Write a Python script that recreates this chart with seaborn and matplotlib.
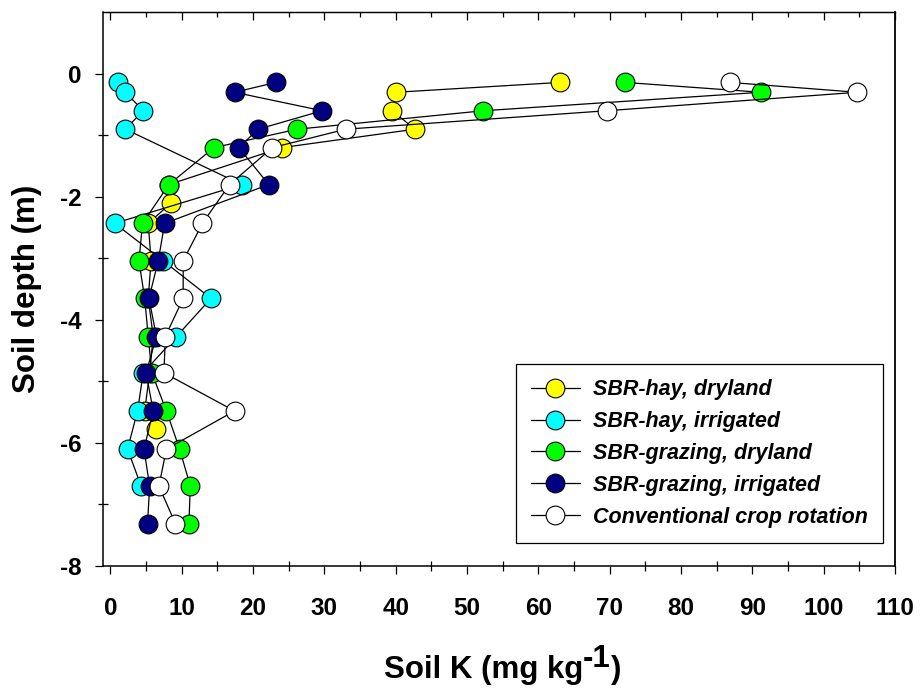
import matplotlib
matplotlib.use("Agg")
import matplotlib.pyplot as plt
import seaborn as sns
import pandas as pd
from matplotlib.ticker import MultipleLocator, FixedLocator

# ---------------- data ----------------
series_names = ["SBR-hay, dryland", "SBR-hay, irrigated", "SBR-grazing, dryland",
                "SBR-grazing, irrigated", "Conventional crop rotation"]
series_colors = ["#FFFF00", "#00FFFF", "#00FF00", "#000080", "#FFFFFF"]

hay_dry_depth = [-0.14, -0.3, -0.6, -0.9, -1.2, -1.8, -2.1, -2.43, -3.04, -3.65, -4.27, -4.86, -5.48, -5.78]
hay_dry_k = [63.0, 40.0, 39.5, 42.7, 24.0, 8.2, 8.5, 5.3, 5.7, 5.3, 6.0, 5.5, 4.8, 6.45]

hay_irr_depth = [-0.14, -0.3, -0.6, -0.9, -1.8, -2.43, -3.04, -3.65, -4.27, -4.86, -5.48, -6.1, -6.7]
hay_irr_k = [1.0, 2.1, 4.6, 2.1, 18.4, 0.6, 7.4, 14.1, 9.25, 4.6, 3.8, 2.4, 4.3]

graz_dry_depth = [-0.14, -0.3, -0.6, -0.9, -1.2, -1.8, -2.43, -3.04, -3.65, -4.27, -4.86, -5.48, -6.1, -6.7, -7.31]
graz_dry_k = [72.2, 91.2, 52.3, 26.2, 14.5, 8.2, 4.5, 4.0, 4.8, 5.3, 5.8, 7.85, 9.7, 11.2, 11.0]

graz_irr_depth = [-0.14, -0.3, -0.6, -0.9, -1.2, -1.8, -2.43, -3.04, -3.65, -4.27, -4.86, -5.48, -6.1, -6.7, -7.31]
graz_irr_k = [23.2, 17.4, 29.7, 20.7, 18.0, 22.2, 7.6, 6.7, 5.4, 6.45, 5.0, 6.0, 4.7, 5.5, 5.2]

conv_depth = [-0.14, -0.3, -0.6, -0.9, -1.2, -1.8, -2.43, -3.04, -3.65, -4.27, -4.86, -5.48, -6.1, -6.7, -7.31]
conv_k = [86.9, 104.7, 69.6, 33.0, 22.7, 16.7, 12.9, 10.2, 10.2, 7.7, 7.5, 17.4, 7.85, 6.8, 9.1]

x_ticks = [0, 10, 20, 30, 40, 50, 60, 70, 80, 90, 100, 110]
y_ticks = [-8, -6, -4, -2, 0]

all_depths = [hay_dry_depth, hay_irr_depth, graz_dry_depth, graz_irr_depth, conv_depth]
all_k = [hay_dry_k, hay_irr_k, graz_dry_k, graz_irr_k, conv_k]

frames = []
for name, d, k in zip(series_names, all_depths, all_k):
    frames.append(pd.DataFrame({"series": name, "depth": d, "K": k}))
df = pd.concat(frames, ignore_index=True)

# ---------------- style ----------------
sns.set_style("ticks")
plt.rcParams["font.family"] = ["Liberation Sans", "DejaVu Sans"]
plt.rcParams["font.weight"] = "bold"
plt.rcParams["axes.unicode_minus"] = False
for key in ["text.color", "axes.labelcolor", "xtick.color", "ytick.color", "axes.edgecolor"]:
    plt.rcParams[key] = "black"

W, H = 921, 688
fig = plt.figure(figsize=(W / 100, H / 100), dpi=100)
ax_l, ax_r, ax_t, ax_b = 103.3, 895.0, 12.3, 566.0
ax = fig.add_axes([ax_l / W, 1 - ax_b / H, (ax_r - ax_l) / W, (ax_b - ax_t) / H])

for i, (name, col) in enumerate(zip(series_names, series_colors)):
    sub = df[df["series"] == name]
    sns.lineplot(data=sub, x="K", y="depth", sort=False, estimator=None,
                 color="black", linewidth=0.9, marker="o", markersize=13.5,
                 markerfacecolor=col, markeredgecolor="black", markeredgewidth=0.8,
                 label=name, ax=ax, zorder=3 + i)

ax.set_xlim(-1, 110)
ax.set_ylim(-8, 1)
ax.xaxis.set_major_locator(FixedLocator(x_ticks))
ax.xaxis.set_minor_locator(MultipleLocator(5))
ax.yaxis.set_major_locator(FixedLocator(y_ticks))
ax.yaxis.set_minor_locator(FixedLocator([-7, -5, -3, -1]))

ax.tick_params(which="major", direction="out", length=6, width=0.9, labelsize=17.5,
               top=False, right=False, colors="black", labelcolor="black")
ax.tick_params(axis="x", which="major", pad=16)
ax.tick_params(axis="y", which="major", pad=9.5)
ax.tick_params(which="minor", direction="inout", length=7.5, width=0.9,
               top=False, right=False, colors="black")
for lab in ax.get_xticklabels() + ax.get_yticklabels():
    lab.set_fontweight("bold")
    lab.set_color("black")

for s in ["left", "bottom"]:
    ax.spines[s].set_linewidth(1.1)
ax.spines["top"].set_linewidth(0.9)
ax.spines["right"].set_linewidth(1.3)
for s in ax.spines.values():
    s.set_color("black")

sec = ax.secondary_xaxis("top")
sec.xaxis.set_major_locator(FixedLocator(x_ticks))
sec.xaxis.set_minor_locator(MultipleLocator(5))
sec.tick_params(which="major", direction="in", length=5.5, width=0.9, labeltop=False,
                colors="black")
sec.tick_params(which="minor", direction="in", length=3.5, width=0.9, colors="black")
sec.spines["top"].set_linewidth(0.9)
sec.spines["top"].set_color("black")

# axis labels
ax.set_ylabel("Soil depth (m)", fontsize=22.5, fontweight="bold", color="black")
ax.yaxis.set_label_coords((42 - ax_l) / (ax_r - ax_l), 0.5)
ax.set_xlabel("")

lab_fs = 22.5
t1 = fig.text(383.5 / W, (H - 678) / H, "Soil K (mg kg", fontsize=lab_fs,
              fontweight="bold", ha="left", va="baseline", color="black")
t2 = ax.annotate("-1", xy=(1, 0), xycoords=t1, xytext=(0, 8), textcoords="offset points",
                 fontsize=lab_fs, fontweight="bold", ha="left", va="bottom",
                 annotation_clip=False, color="black")
t3 = ax.annotate(")", xy=(1, 0), xycoords=(t2, t1), fontsize=lab_fs, fontweight="bold",
                 ha="left", va="bottom", annotation_clip=False, color="black")

# legend
leg_r, leg_b = 883.0, 543.0
leg = ax.legend(loc="lower right",
                bbox_to_anchor=((leg_r - ax_l) / (ax_r - ax_l), (ax_b - leg_b) / (ax_b - ax_t)),
                borderaxespad=0, frameon=True, fancybox=False, framealpha=1,
                edgecolor="black", prop={"size": 15.5, "weight": "bold", "style": "italic"},
                handlelength=2.25, handletextpad=0.6, labelspacing=0.5, borderpad=0.72,
                numpoints=1)
leg.get_frame().set_linewidth(0.9)
for txt in leg.get_texts():
    txt.set_color("black")

fig.savefig("out.png", dpi=100)
